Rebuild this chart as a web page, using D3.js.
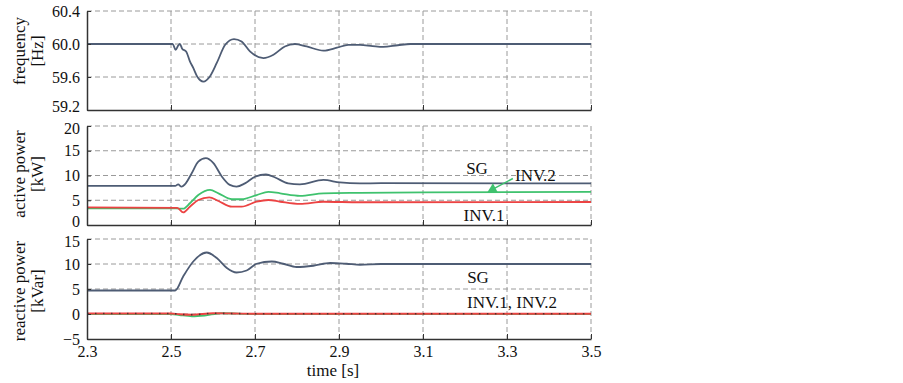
<!DOCTYPE html>
<html>

<head>
    <meta charset="utf-8">
    <title>Frequency and power response</title>
    <style>
        body { margin: 0; background: #fff; }
        text { font-family: "Liberation Serif", "DejaVu Serif", serif; fill: #111; }
    </style>
</head>

<body>
    <script src='https://d3js.org/d3.v7.min.js'></script>
    <script>
    // x ticks shared by all three panels
    const timeTicks = [2.3, 2.5, 2.7, 2.9, 3.1, 3.3, 3.5];

    // frequency [Hz], pairs of [time, value]
    const freqSG = [[2.3, 60.0], [2.504, 60.0], [2.511, 59.93], [2.517, 59.98], [2.521, 60.0],
        [2.527, 59.94], [2.536, 59.91], [2.545, 59.79], [2.553, 59.71], [2.563, 59.60],
        [2.577, 59.545], [2.593, 59.61], [2.609, 59.77], [2.629, 59.99], [2.65, 60.06],
        [2.668, 60.03], [2.688, 59.91], [2.72, 59.83], [2.744, 59.87], [2.771, 59.97],
        [2.795, 60.0], [2.823, 59.97], [2.863, 59.92], [2.895, 59.955], [2.922, 59.99],
        [2.95, 59.99], [2.98, 59.975], [3.005, 59.965], [3.04, 59.985], [3.07, 60.0], [3.5, 60.0]];
    const freqTicks = [59.2, 59.6, 60.0, 60.4];

    // active power [kW]
    const pSG = [[2.3, 7.9], [2.51, 7.9], [2.517, 8.2], [2.525, 7.75], [2.533, 8.2], [2.549, 10.4],
        [2.565, 12.8], [2.583, 13.5], [2.601, 12.5], [2.621, 9.8], [2.64, 8.1], [2.656, 7.75],
        [2.676, 8.4], [2.7, 9.75], [2.726, 10.2], [2.748, 9.6], [2.779, 8.4], [2.807, 8.2],
        [2.863, 9.1], [2.902, 8.6], [2.95, 8.4], [3.0, 8.45], [3.5, 8.4]];
    const pINV2 = [[2.3, 3.35], [2.512, 3.35], [2.529, 3.3], [2.545, 4.4], [2.565, 6.05], [2.593, 7.1],
        [2.613, 6.4], [2.645, 5.2], [2.668, 5.2], [2.704, 6.05], [2.732, 6.7], [2.76, 6.4],
        [2.807, 5.9], [2.863, 6.4], [2.95, 6.5], [3.1, 6.6], [3.5, 6.7]];
    const pINV1 = [[2.3, 3.55], [2.515, 3.45], [2.529, 2.55], [2.545, 3.7], [2.565, 5.05], [2.591, 5.6],
        [2.613, 4.85], [2.645, 3.7], [2.668, 3.7], [2.704, 4.7], [2.732, 5.05], [2.76, 4.7],
        [2.807, 4.25], [2.863, 4.7], [2.95, 4.6], [3.5, 4.65]];
    const pTicks = [0, 5, 10, 15, 20];

    // reactive power [kVar]
    const qSG = [[2.3, 4.7], [2.51, 4.7], [2.529, 7.5], [2.553, 10.5], [2.585, 12.3], [2.609, 11.2],
        [2.633, 9.2], [2.656, 8.3], [2.68, 8.7], [2.704, 10.05], [2.74, 10.5], [2.767, 10.05],
        [2.799, 9.4], [2.839, 9.65], [2.879, 10.2], [2.918, 10.05], [2.95, 9.85], [3.0, 10.0], [3.5, 10.0]];
    const qINV2 = [[2.3, 0.0], [2.5, 0.0], [2.52, -0.2], [2.55, -0.45], [2.58, -0.3], [2.62, 0.15],
        [2.7, 0.0], [3.5, 0.0]];
    const qINV1 = [[2.3, 0.1], [2.5, 0.1], [2.52, -0.05], [2.55, -0.15], [2.6, 0.15], [2.65, 0.1],
        [2.7, 0.05], [3.5, 0.05]];
    const qTicks = [-5, 0, 5, 10, 15];

    const colSG = "#4e5c74";
    const colINV1 = "#ec4343";
    const colINV2 = "#3fc26e";
    const fontSize = "16px";

    const width = 903, height = 383;
    const left = 87, right = 591;

    const svg = d3.select("body").append("svg")
        .attr("width", width)
        .attr("height", height);

    const x = d3.scaleLinear().domain([2.3, 3.5]).range([left, right]);

    // nudgeLow / nudgeHigh: pull the end labels away from the neighbouring panel
    function panel(top, bottom, ticks, fmt, series, nudgeLow, nudgeHigh) {
        const y = d3.scaleLinear().domain(d3.extent(ticks)).range([bottom, top]);
        const g = svg.append("g");

        // dashed grid (also makes the top and right border)
        g.selectAll(".hg").data(ticks.slice(1)).enter().append("line")
            .attr("x1", left).attr("x2", right)
            .attr("y1", d => y(d)).attr("y2", d => y(d))
            .attr("stroke", "#9a9a9a").attr("stroke-dasharray", "5,3");
        g.selectAll(".vg").data(timeTicks.slice(1)).enter().append("line")
            .attr("x1", d => x(d)).attr("x2", d => x(d))
            .attr("y1", top).attr("y2", bottom)
            .attr("stroke", "#9a9a9a").attr("stroke-dasharray", "5,3");

        // lines
        const line = d3.line().curve(d3.curveMonotoneX)
            .x(d => x(d[0]))
            .y(d => y(d[1]));
        series.forEach(s => {
            g.append("path")
                .datum(s.data)
                .attr("fill", "none")
                .attr("stroke", s.color)
                .attr("stroke-width", 1.8)
                .attr("stroke-linejoin", "round")
                .attr("d", line);
            if (s.dots) {
                // small dark dots along the line
                g.append("path")
                    .datum(s.data)
                    .attr("fill", "none")
                    .attr("stroke", s.dots)
                    .attr("stroke-width", 1.6)
                    .attr("stroke-dasharray", "1.5,6.5")
                    .attr("opacity", 0.7)
                    .attr("d", line);
            }
        });

        // left axis, ticks inside
        const ya = g.append("g")
            .attr("transform", `translate(${left},0)`)
            .call(d3.axisLeft(y).tickValues(ticks).tickFormat(fmt).tickSizeInner(-4).tickSizeOuter(0).tickPadding(7))
            .attr("font-family", "Liberation Serif")
            .attr("font-size", fontSize);
        ya.select(".domain").attr("stroke", "#333").attr("stroke-width", 1.5);
        ya.selectAll(".tick line").attr("stroke", "#333");
        ya.selectAll("text").style("font-size", fontSize).style("font-family", "Liberation Serif");
        ya.selectAll(".tick text")
            .attr("dy", (d, i) => (i === 0 && nudgeLow) ? "0.12em"
                : (i === ticks.length - 1 && nudgeHigh) ? "0.45em" : "0.32em");

        // bottom axis, ticks pointing up
        const xa = g.append("g")
            .attr("transform", `translate(0,${bottom})`)
            .call(d3.axisBottom(x).tickValues(timeTicks).tickFormat(d3.format(".1f")).tickSizeInner(-5).tickSizeOuter(0).tickPadding(7))
            .attr("font-family", "Liberation Serif")
            .attr("font-size", fontSize);
        xa.select(".domain").attr("stroke", "#333").attr("stroke-width", 1.5);
        xa.selectAll(".tick line").attr("stroke", "#333");
        xa.selectAll("text").style("font-size", fontSize).style("font-family", "Liberation Serif");
        return { g: g, y: y, xa: xa };
    }

    function yLabel(cy, l1, l2) {
        svg.append("text")
            .attr("transform", `translate(25,${cy}) rotate(-90)`)
            .attr("text-anchor", "middle").style("font-size", "17px").text(l1);
        svg.append("text")
            .attr("transform", `translate(43,${cy}) rotate(-90)`)
            .attr("text-anchor", "middle").style("font-size", "17px").text(l2);
    }

    function note(g, xPos, yPos, anchor, label) {
        g.append("text").attr("x", xPos).attr("y", yPos).attr("text-anchor", anchor)
            .style("font-size", "17px").text(label);
    }

    // panel 1: frequency
    const p1 = panel(11, 110, freqTicks, d3.format(".1f"), [
        { data: freqSG, color: colSG }
    ], true, false);
    p1.xa.selectAll("text").remove();
    yLabel(51, "frequency", "[Hz]");

    // panel 2: active power
    const p2 = panel(126, 225, pTicks, d3.format("d"), [
        { data: pINV2, color: colINV2 },
        { data: pINV1, color: colINV1 },
        { data: pSG, color: colSG }
    ], true, true);
    p2.xa.selectAll("text").remove();
    yLabel(174, "active power", "[kW]");

    note(p2.g, 477, p2.y(10.3), "middle", "SG");
    note(p2.g, 515, p2.y(8.8), "start", "INV.2");
    note(p2.g, 484, p2.y(0.8), "middle", "INV.1");
    // arrow from INV.2 label down to its line
    p2.g.append("line")
        .attr("x1", x(3.314)).attr("y1", p2.y(9.4))
        .attr("x2", x(3.27)).attr("y2", p2.y(7.4))
        .attr("stroke", colINV2).attr("stroke-width", 1.5);
    p2.g.append("path")
        .attr("d", d3.symbol().type(d3.symbolTriangle).size(45))
        .attr("fill", colINV2)
        .attr("transform", `translate(${x(3.266)},${p2.y(7.25)}) rotate(-118)`);

    // panel 3: reactive power
    const p3 = panel(239, 339, qTicks, d3.format("d"), [
        { data: qINV2, color: colINV2 },
        { data: qINV1, color: colINV1, dots: "#222" },
        { data: qSG, color: colSG }
    ], false, true);
    yLabel(291, "reactive power", "[kVar]");

    note(p3.g, 478, p3.y(6.2), "middle", "SG");
    note(p3.g, 467, p3.y(1.2), "start", "INV.1, INV.2");

    svg.append("text")
        .attr("x", 333).attr("y", 376).attr("text-anchor", "middle")
        .style("font-size", "17px").text("time [s]");
    </script>
</body>

</html>
